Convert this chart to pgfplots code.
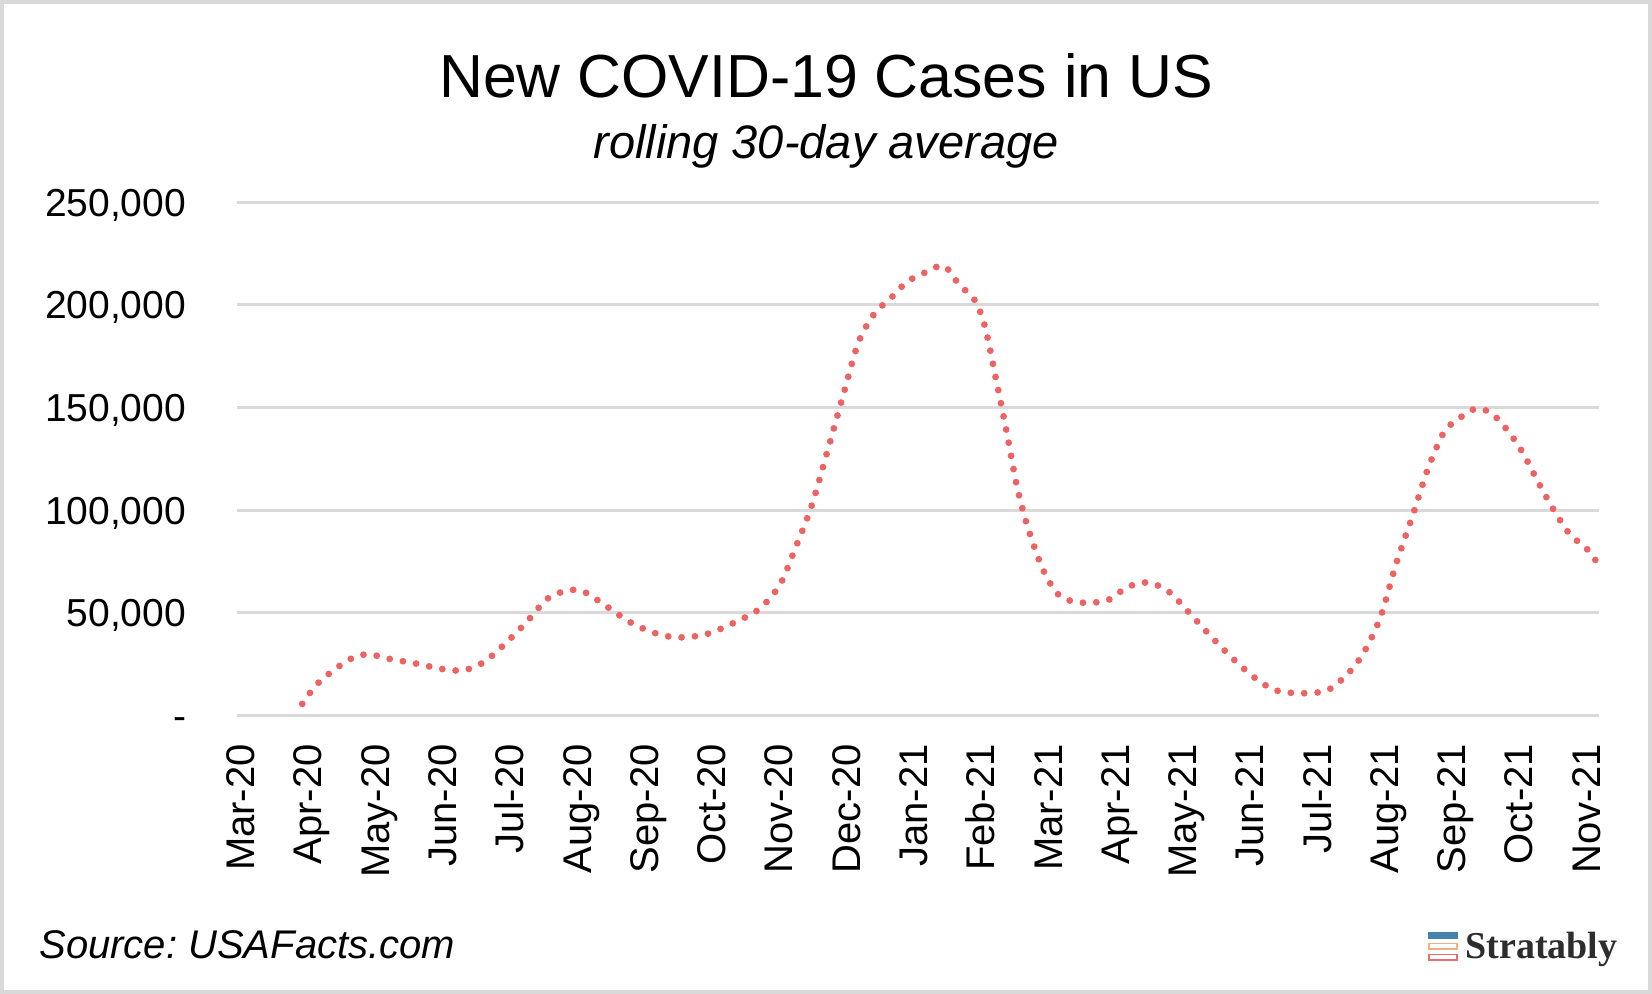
\documentclass[border=0pt]{standalone}
\usepackage{fontspec}
\setmainfont{Liberation Sans}
\newfontfamily\logofont{Liberation Serif}
\usepackage{pgfplots}
\pgfplotsset{compat=1.18}
\definecolor{covidred}{RGB}{237,98,98}
\definecolor{gridgray}{RGB}{217,217,217}
\definecolor{logoblue}{RGB}{70,130,170}
\definecolor{logoorange}{RGB}{245,175,130}
\definecolor{logored}{RGB}{235,110,110}
\definecolor{logotext}{RGB}{45,45,45}
\frenchspacing
\pgfplotstableread{
x y
0.92 5600
1.13 14900
1.41 22600
1.68 28200
1.91 29800
2.19 27700
2.62 25200
3.00 22600
3.32 22000
3.63 26200
3.95 35400
4.26 45700
4.57 57000
4.89 61000
5.12 60000
5.43 53400
5.83 44700
6.22 39500
6.53 38000
6.92 39500
7.31 44700
7.71 51800
8.02 63700
8.25 81600
8.49 102000
8.72 128000
8.96 156000
9.19 182000
9.43 196000
9.66 203000
9.90 211000
10.13 215000
10.45 219000
10.68 210000
10.92 202000
11.07 189000
11.23 164000
11.39 138000
11.54 112000
11.70 92000
11.93 71000
12.17 58500
12.48 55000
12.88 56000
13.19 62600
13.50 64700
13.81 60000
14.13 49000
14.44 38000
14.75 27700
15.07 18500
15.38 12300
15.77 10800
16.16 12300
16.48 21000
16.71 31300
16.95 48300
17.18 74000
17.42 97000
17.65 120000
17.89 138000
18.12 144800
18.36 149400
18.59 147300
18.83 139000
19.06 128000
19.30 113000
19.53 99600
19.77 87800
20.00 81600
20.20 72900
}\casedata
\begin{document}
\begin{tikzpicture}
\useasboundingbox (0pt,0pt) rectangle (826pt,497pt);
\fill[white] (0pt,0pt) rectangle (826pt,497pt);
\draw[gridgray, line width=2pt] (1pt,1pt) rectangle (825pt,496pt);
\node[anchor=base, inner sep=0pt, font=\fontsize{30.4}{36}\selectfont] at (413pt,448pt) {New COVID-19 Cases in US};
\node[anchor=base, inner sep=0pt, font=\fontsize{23.5}{28}\selectfont\itshape] at (413pt,417.5pt) {rolling 30-day average};
\node[anchor=base west, inner sep=0pt, font=\fontsize{20}{24}\selectfont\itshape] at (19.5pt,17.5pt) {Source: USAFacts.com};
\fill[logoblue] (714pt,27.5pt) rectangle (729pt,31pt);
\draw[logoorange, line width=0.8pt] (714.4pt,22.4pt) rectangle (728.6pt,25.3pt);
\draw[logored, line width=0.8pt] (714.4pt,16.9pt) rectangle (728.6pt,19.8pt);
\node[anchor=base west, inner sep=0pt, text=logotext, font=\logofont\bfseries\fontsize{19}{23}\selectfont] at (732.5pt,17.85pt) {Stratably};
\begin{axis}[
  at={(118.5pt,139.3pt)}, anchor=south west,
  scale only axis, width=681.2pt, height=256.6pt,
  xmin=-0.05, xmax=20.2, ymin=0, ymax=250000,
  scaled y ticks=false,
  axis line style={draw=none},
  tick style={draw=none},
  ymajorgrids,
  major grid style={gridgray, line width=1.6pt},
  xtick={0,...,20},
  xticklabels={Mar-20,Apr-20,May-20,Jun-20,Jul-20,Aug-20,Sep-20,Oct-20,Nov-20,Dec-20,Jan-21,Feb-21,Mar-21,Apr-21,May-21,Jun-21,Jul-21,Aug-21,Sep-21,Oct-21,Nov-21},
  ytick={0,50000,100000,150000,200000,250000},
  yticklabels={{-\hspace{10pt}},{50,000},{100,000},{150,000},{200,000},{250,000}},
  xticklabel style={yshift=-14.2pt, rotate=90, anchor=east, inner sep=0pt, text height=14.3pt, text depth=0pt, font=\fontsize{20}{24}\selectfont},
  yticklabel style={xshift=-25.3pt, anchor=east, inner sep=0pt, text height=14pt, text depth=0pt, font=\fontsize{19.5}{23}\selectfont},
  /pgf/number format/assume math mode=true,
  clip=true,
]
\addplot[covidred, line width=3.4pt, line cap=round, dash pattern=on 0pt off 6.7pt, smooth, tension=0.5] table[x=x,y=y] {\casedata};
\end{axis}
\end{tikzpicture}
\end{document}
